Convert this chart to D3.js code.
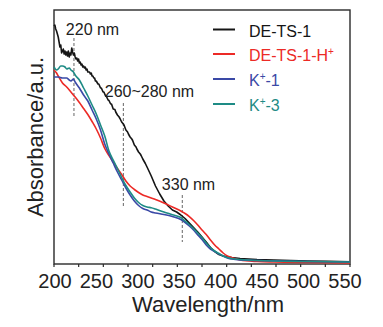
<!DOCTYPE html>
<html>
<head>
<meta charset="utf-8">
<script src="https://cdn.jsdelivr.net/npm/d3@7/dist/d3.min.js"></script>
<style>
  html, body { margin: 0; padding: 0; background: #fff; }
  svg { display: block; font-family: "Liberation Sans", Arial, sans-serif; }
</style>
</head>
<body>
<svg id="chart" width="383" height="327"></svg>
<script>
// ---------- data ----------
const xTickLabels = [200, 250, 300, 350, 400, 450, 500, 550];
const seriesNames = ["DE-TS-1", "DE-TS-1-H+", "K+-1", "K+-3"];
const seriesColors = ["#151515", "#ec2a26", "#3a49a6", "#1e8b85"];

const wlBlack = [200,201,202,203,204,205,206,207,208,209,210,211,212,213,214,215,216,217,218,219,220,221,222,223,224,225,226,227,228,229,230,231,232,233,234,235,236,237,238,239,240,242,243,244,245,246,247,248,249,250,252,253,255,256,258,259,261,262,264,265,267,268,270,272,273,275,277,278,280,282,283,285,287,288,290,292,293,295,297,298,300,302,303,305,307,308,310,315,320,325,330,335,340,345,350,355,360,365,370,375,380,385,390,395,400,410,420,440,460,480,500,525,550];
const absBlack = [2.38,2.39,2.35,2.33,2.30,2.27,2.22,2.17,2.19,2.11,2.13,2.15,2.10,2.13,2.09,2.12,2.08,2.13,2.07,2.11,2.09,2.16,2.12,2.09,2.11,2.07,2.05,2.06,2.03,2.05,2.01,2.02,1.99,2.00,1.97,1.98,1.96,1.97,1.94,1.95,1.92,1.92,1.90,1.91,1.88,1.88,1.86,1.86,1.83,1.83,1.80,1.80,1.76,1.76,1.72,1.72,1.68,1.675,1.64,1.635,1.60,1.60,1.55,1.545,1.52,1.49,1.47,1.455,1.42,1.40,1.385,1.34,1.32,1.30,1.27,1.25,1.235,1.19,1.17,1.15,1.12,1.10,1.085,1.05,1.02,1.005,0.97,0.88,0.78,0.70,0.63,0.58,0.54,0.52,0.49,0.455,0.41,0.365,0.32,0.27,0.22,0.165,0.125,0.095,0.08,0.065,0.055,0.045,0.04,0.035,0.03,0.027,0.022];

const wlRed = [200,203,205,210,215,220,225,230,235,240,245,250,255,260,265,270,275,280,285,290,295,300,305,310,315,320,330,340,350,355,360,365,370,375,380,385,390,395,400,405,410,420,440,460,500,550];
const absRed = [1.94,1.91,1.88,1.81,1.77,1.72,1.67,1.615,1.555,1.495,1.425,1.35,1.26,1.155,1.085,1.02,0.955,0.895,0.83,0.78,0.745,0.715,0.69,0.675,0.66,0.645,0.61,0.57,0.53,0.505,0.474,0.435,0.39,0.34,0.295,0.24,0.19,0.15,0.11,0.08,0.065,0.04,0.025,0.02,0.015,0.01];

const wlBlue = [200,205,210,215,218,220,223,225,230,235,240,245,250,255,260,265,270,275,280,285,290,295,300,305,310,315,320,330,340,350,360,365,370,375,380,385,390,395,400,405,410,420,440,500,550];
const absBlue = [1.87,1.87,1.86,1.86,1.84,1.83,1.85,1.82,1.76,1.69,1.63,1.54,1.45,1.34,1.20,1.10,1.01,0.92,0.84,0.76,0.69,0.63,0.585,0.555,0.54,0.52,0.51,0.495,0.475,0.445,0.38,0.34,0.29,0.245,0.19,0.15,0.125,0.10,0.08,0.06,0.05,0.04,0.035,0.025,0.02];

const wlTeal = [200,203,205,208,210,213,215,218,220,223,225,230,235,240,245,250,255,260,265,270,275,280,285,290,295,300,305,310,315,320,330,340,350,355,360,365,370,375,380,385,390,395,400,405,410,420,440,500,550];
const absTeal = [1.97,1.94,1.95,1.98,1.98,1.97,1.95,1.96,1.94,1.92,1.89,1.84,1.76,1.68,1.59,1.50,1.39,1.28,1.13,1.04,0.955,0.865,0.785,0.72,0.66,0.615,0.585,0.57,0.563,0.55,0.52,0.493,0.465,0.43,0.395,0.355,0.31,0.265,0.21,0.165,0.13,0.105,0.08,0.065,0.055,0.045,0.035,0.025,0.02];

// annotations: label, dashed line wavelength, dashed line y-extent (absorbance)
const annoLabels = ["220 nm", "260~280 nm", "330 nm"];
const annoWl = [223.6, 282, 351.7];
const annoTop = [2.26, 1.61, 0.69];
const annoBottom = [1.47, 0.56, 0.22];
// label anchor in data space (wavelength, absorbance of baseline)
const annoLabelWl = [214, 260, 327.5];
const annoLabelAbs = [2.29, 1.67, 0.74];

// ---------- layout ----------
const svg = d3.select("#chart");
const L = 54, R = 350, T = 10, B = 264;

const x = d3.scaleLinear().domain([200, 550]).range([L, R]);
const y = d3.scaleLinear().domain([0, 2.54]).range([B, T]);
// tick labels in the original are spaced slightly tighter than the tick marks
const xLab = d3.scaleLinear().domain([200, 550]).range([55, 345]);

// frame
svg.append("rect")
  .attr("x", L).attr("y", T).attr("width", R - L).attr("height", B - T)
  .attr("fill", "none").attr("stroke", "#2a2a2a").attr("stroke-width", 1.4);

// minor tick marks on the bottom axis (12 intervals)
const tickMarks = d3.range(13).map(i => 200 + i * 350 / 12);
svg.append("g").selectAll("line").data(tickMarks).join("line")
  .attr("x1", d => x(d)).attr("x2", d => x(d))
  .attr("y1", B).attr("y2", B + 3)
  .attr("stroke", "#2a2a2a").attr("stroke-width", 1.2);

// tick labels
svg.append("g").selectAll("text").data(xTickLabels).join("text")
  .attr("x", d => xLab(d)).attr("y", 288)
  .attr("text-anchor", "middle")
  .attr("font-size", 20).attr("fill", "#222")
  .text(d => d);

// axis titles
svg.append("text")
  .attr("x", 208).attr("y", 312)
  .attr("text-anchor", "middle").attr("font-size", 22).attr("fill", "#222")
  .text("Wavelength/nm");
svg.append("text")
  .attr("transform", "translate(43,137) rotate(-90)")
  .attr("text-anchor", "middle").attr("font-size", 22).attr("fill", "#222")
  .text("Absorbance/a.u.");

// dashed annotation lines
svg.append("g").selectAll("line").data(annoWl).join("line")
  .attr("x1", d => x(d)).attr("x2", d => x(d))
  .attr("y1", (d, i) => y(annoTop[i])).attr("y2", (d, i) => y(annoBottom[i]))
  .attr("stroke", "#666").attr("stroke-width", 1).attr("stroke-dasharray", "3,2");

// curves
const series = [
  {wl: wlBlack, a: absBlack, curve: d3.curveLinear},
  {wl: wlRed, a: absRed, curve: d3.curveMonotoneX},
  {wl: wlBlue, a: absBlue, curve: d3.curveMonotoneX},
  {wl: wlTeal, a: absTeal, curve: d3.curveMonotoneX}
];
series.forEach((s, i) => {
  const pts = s.wl.map((w, j) => [w, s.a[j]]);
  const line = d3.line().x(d => x(d[0])).y(d => y(d[1])).curve(s.curve);
  svg.append("path").datum(pts)
    .attr("d", line)
    .attr("fill", "none")
    .attr("stroke", seriesColors[i])
    .attr("stroke-width", 1.6)
    .attr("stroke-linejoin", "round");
});

// annotation labels
svg.append("g").selectAll("text").data(annoLabels).join("text")
  .attr("x", (d, i) => x(annoLabelWl[i])).attr("y", (d, i) => y(annoLabelAbs[i]))
  .attr("font-size", 16).attr("fill", "#222")
  .text(d => d);

// legend
const legY = [29.5, 54, 79, 104];
const lg = svg.append("g");
seriesNames.forEach((name, i) => {
  lg.append("line")
    .attr("x1", 213).attr("x2", 235).attr("y1", legY[i]).attr("y2", legY[i])
    .attr("stroke", seriesColors[i]).attr("stroke-width", 2);
  const t = lg.append("text")
    .attr("x", 249).attr("y", legY[i] + 7)
    .attr("font-size", 16).attr("fill", seriesColors[i]);
  const parts = name.split("+");
  if (parts.length === 1) {
    t.text(name);
  } else {
    t.append("tspan").text(parts[0]);
    t.append("tspan").attr("font-size", 10).attr("dy", -6).text("+");
    if (parts[1]) t.append("tspan").attr("dy", 6).text(parts[1]);
  }
});
</script>
</body>
</html>
